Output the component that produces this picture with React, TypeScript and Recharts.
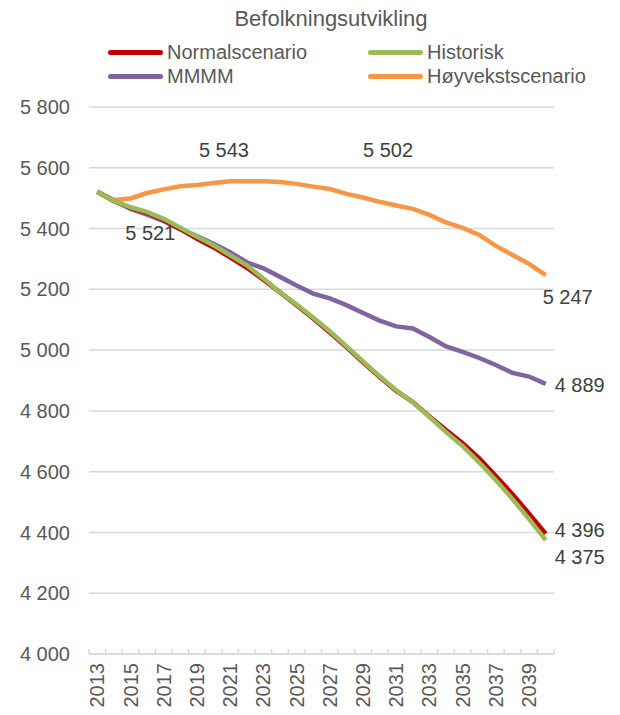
import { CartesianGrid, LabelList, Line, LineChart, XAxis, YAxis } from "recharts";

const years = [
  "2013", "2014", "2015", "2016", "2017", "2018", "2019", "2020", "2021", "2022",
  "2023", "2024", "2025", "2026", "2027", "2028", "2029", "2030", "2031", "2032",
  "2033", "2034", "2035", "2036", "2037", "2038", "2039", "2040",
];

const normal = [
  5521, 5490, 5468, 5452, 5428, 5398, 5366, 5338, 5305, 5271,
  5232, 5190, 5148, 5104, 5058, 5010, 4960, 4911, 4866, 4829,
  4782, 4737, 4694, 4644, 4586, 4526, 4462, 4396,
];
const historisk = [
  5521, 5491, 5470, 5455, 5432, 5403, 5373, 5345, 5312, 5279,
  5236, 5190, 5150, 5107, 5062, 5013, 4963, 4914, 4868, 4828,
  4780, 4730, 4684, 4630, 4572, 4510, 4444, 4375,
];
const mmmm = [
  5521, 5493, 5465, 5446, 5424, 5398, 5375, 5350, 5322, 5289,
  5269, 5241, 5213, 5186, 5170, 5148, 5122, 5097, 5078, 5071,
  5043, 5012, 4994, 4974, 4951, 4925, 4913, 4889,
];
const hoyvekst = [
  5521, 5494, 5499, 5517, 5529, 5539, 5543, 5550, 5556, 5556,
  5556, 5553, 5547, 5538, 5530, 5514, 5502, 5488, 5476, 5465,
  5445, 5420, 5402, 5379, 5343, 5313, 5284, 5247,
];

const yTicks = [4000, 4200, 4400, 4600, 4800, 5000, 5200, 5400, 5600, 5800];

const data = years.map((year, i) => ({
  year,
  normal: normal[i],
  historisk: historisk[i],
  mmmm: mmmm[i],
  hoyvekst: hoyvekst[i],
}));

const FONT = '"Liberation Sans", Arial, sans-serif';
const TEXT = "#404040";
const AXIS_TEXT = "#595959";
const GRID = "#D9D9D9";

const fmt = (v: number) => {
  const s = String(Math.round(v));
  return s.length > 3 ? `${s.slice(0, s.length - 3)} ${s.slice(-3)}` : s;
};

// which points get a value label, and where it sits relative to the point
type LabelSpot = { index: number; dx: number; dy: number; anchor: "start" | "middle" };

function makeLabel(spots: LabelSpot[]) {
  return (props: any) => {
    const { x, y, value, index } = props;
    const spot = spots.find((s) => s.index === index);
    if (!spot) return null;
    return (
      <text
        x={x + spot.dx}
        y={y + spot.dy}
        dy="0.35em"
        textAnchor={spot.anchor}
        fill={TEXT}
        fontSize={20}
        fontFamily={FONT}
      >
        {fmt(value)}
      </text>
    );
  };
}

function YearTick(props: any) {
  const { x, y, payload, index } = props;
  const half = payload?.offset ?? 0;
  const axisY = y - 9;
  const last = index === years.length - 1;
  return (
    <g>
      <line x1={x - half} x2={x - half} y1={axisY - 5} y2={axisY} stroke={GRID} strokeWidth={1.5} />
      {last && <line x1={x + half} x2={x + half} y1={axisY - 5} y2={axisY} stroke={GRID} strokeWidth={1.5} />}
      {index % 2 === 0 && (
        <text
          x={x}
          y={y}
          dy="0.35em"
          textAnchor="end"
          transform={`rotate(-90, ${x}, ${y})`}
          fill={AXIS_TEXT}
          fontSize={20}
          fontFamily={FONT}
        >
          {payload.value}
        </text>
      )}
    </g>
  );
}

const legendItems = [
  { name: "Normalscenario", color: "#C00000", left: 108, top: 40 },
  { name: "Historisk", color: "#9BBB59", left: 368, top: 40 },
  { name: "MMMM", color: "#8064A2", left: 108, top: 64 },
  { name: "Høyvekstscenario", color: "#F79646", left: 368, top: 64 },
];

export default function App() {
  return (
    <div style={{ position: "absolute", left: 0, top: 0, width: 620, height: 715, background: "#fff", fontFamily: FONT }}>
      <div
        style={{
          position: "absolute",
          top: 6,
          left: 0,
          width: 662,
          textAlign: "center",
          fontSize: 22,
          color: AXIS_TEXT,
        }}
      >
        Befolkningsutvikling
      </div>
      {legendItems.map((it) => (
        <div
          key={it.name}
          style={{ position: "absolute", left: it.left, top: it.top, display: "flex", alignItems: "center", fontSize: 20, color: AXIS_TEXT, lineHeight: "24px" }}
        >
          <span style={{ display: "inline-block", width: 55, height: 5, borderRadius: 3, background: it.color, marginRight: 4 }} />
          {it.name}
        </div>
      ))}
      <LineChart width={620} height={715} data={data} margin={{ top: 107, right: 66, bottom: 0, left: 0 }}>
        <CartesianGrid vertical={false} stroke={GRID} strokeWidth={1.5} />
        <XAxis
          dataKey="year"
          scale="band"
          interval={0}
          height={61}
          axisLine={{ stroke: GRID, strokeWidth: 1.5 }}
          tickLine={false}
          tickSize={0}
          tickMargin={9}
          tick={<YearTick />}
        />
        <YAxis
          domain={[4000, 5800]}
          ticks={yTicks}
          width={89}
          axisLine={false}
          tickLine={false}
          tickSize={0}
          tickMargin={19}
          tickFormatter={fmt}
          tick={{ fill: AXIS_TEXT, fontSize: 20, fontFamily: FONT }}
        />
        <Line dataKey="mmmm" stroke="#8064A2" strokeWidth={4.5} dot={false} isAnimationActive={false}>
          <LabelList dataKey="mmmm" content={makeLabel([{ index: 27, dx: 9, dy: 1, anchor: "start" }])} />
        </Line>
        <Line dataKey="hoyvekst" stroke="#F79646" strokeWidth={4.5} dot={false} isAnimationActive={false}>
          <LabelList
            dataKey="hoyvekst"
            content={makeLabel([
              { index: 0, dx: 53, dy: 41, anchor: "middle" },
              { index: 6, dx: 27, dy: -35, anchor: "middle" },
              { index: 16, dx: 25, dy: -48, anchor: "middle" },
              { index: 27, dx: 22, dy: 22, anchor: "middle" },
            ])}
          />
        </Line>
        <Line dataKey="normal" stroke="#C00000" strokeWidth={4.5} dot={false} isAnimationActive={false}>
          <LabelList dataKey="normal" content={makeLabel([{ index: 27, dx: 9, dy: -4, anchor: "start" }])} />
        </Line>
        <Line dataKey="historisk" stroke="#9BBB59" strokeWidth={4.5} dot={false} isAnimationActive={false}>
          <LabelList dataKey="historisk" content={makeLabel([{ index: 27, dx: 9, dy: 17, anchor: "start" }])} />
        </Line>
      </LineChart>
    </div>
  );
}
